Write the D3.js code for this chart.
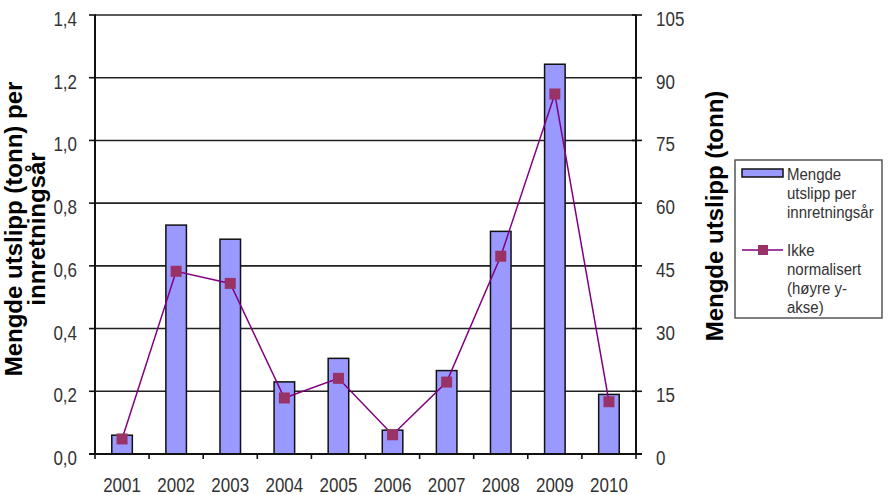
<!DOCTYPE html>
<html><head><meta charset="utf-8">
<script src="https://cdn.jsdelivr.net/npm/d3@7"></script>
<style>body{margin:0;background:#fff}svg{display:block}</style>
</head><body>
<svg id="c" width="888" height="495"></svg>
<script>
const years = ["2001","2002","2003","2004","2005","2006","2007","2008","2009","2010"];
const perYear = [0.06,0.73,0.685,0.23,0.305,0.076,0.266,0.71,1.243,0.19];
const total = [3.6,43.7,40.8,13.4,18.1,4.6,17.2,47.3,86.1,12.5];
const leftTicks = [0,0.2,0.4,0.6,0.8,1.0,1.2,1.4];
const rightTicks = [0,15,30,45,60,75,90,105];
const leftTitle = ["Mengde utslipp (tonn) per","innretningsår"];
const rightTitle = "Mengde utslipp (tonn)";
const legend1 = ["Mengde","utslipp per","innretningsår"];
const legend2 = ["Ikke","normalisert","(høyre y-","akse)"];

const svg = d3.select("#c");
const L = 95, R = 636, T = 15, B = 454;
const font = "'Liberation Sans', Arial, sans-serif";
const x = d3.scaleBand().domain(years).range([L,R]).paddingInner(0.62).paddingOuter(0.31);
const yL = d3.scaleLinear().domain([0,1.4]).range([B,T]);
const yR = d3.scaleLinear().domain([0,105]).range([B,T]);

// gridlines
svg.append("g").selectAll("line").data(leftTicks).join("line")
  .attr("x1",L).attr("x2",R).attr("y1",d=>yL(d)).attr("y2",d=>yL(d))
  .attr("stroke","#222").attr("stroke-width",1.6);

// bars
svg.append("g").selectAll("rect").data(perYear).join("rect")
  .attr("x",(d,i)=>x(years[i])).attr("width",x.bandwidth())
  .attr("y",d=>yL(d)).attr("height",d=>B-yL(d))
  .attr("fill","#9999ff").attr("stroke","#111").attr("stroke-width",1.5);

// axes lines
svg.append("line").attr("x1",L).attr("x2",L).attr("y1",T).attr("y2",B).attr("stroke","#111").attr("stroke-width",2);
svg.append("line").attr("x1",R).attr("x2",R).attr("y1",T).attr("y2",B).attr("stroke","#111").attr("stroke-width",2);
svg.append("line").attr("x1",L-6).attr("x2",R+6).attr("y1",B).attr("y2",B).attr("stroke","#111").attr("stroke-width",2);

// ticks
svg.append("g").selectAll("line").data(leftTicks).join("line")
  .attr("x1",L-6).attr("x2",L+1).attr("y1",d=>yL(d)).attr("y2",d=>yL(d)).attr("stroke","#111").attr("stroke-width",1.6);
svg.append("g").selectAll("line").data(rightTicks).join("line")
  .attr("x1",R-4).attr("x2",R+6).attr("y1",d=>yR(d)).attr("y2",d=>yR(d)).attr("stroke","#111").attr("stroke-width",1.6);
const bt = d3.range(years.length+1).map(i=>L + i*x.step());
svg.append("g").selectAll("line").data(bt).join("line")
  .attr("x1",d=>d).attr("x2",d=>d).attr("y1",B).attr("y2",B+5).attr("stroke","#111").attr("stroke-width",1.6);

const fmt = d3.format(".1f");
svg.append("g").selectAll("text").data(leftTicks).join("text")
  .attr("transform",d=>`translate(77,${yL(d)+11}) scale(1,1.18)`)
  .attr("text-anchor","end").attr("font-family",font).attr("font-size",17).attr("fill","#333")
  .text(d=>fmt(d).replace(".",","));
svg.append("g").selectAll("text").data(rightTicks).join("text")
  .attr("transform",d=>`translate(656,${yR(d)+11}) scale(1,1.18)`)
  .attr("text-anchor","start").attr("font-family",font).attr("font-size",17).attr("fill","#333")
  .text(d=>d);
svg.append("g").selectAll("text").data(years).join("text")
  .attr("transform",d=>`translate(${x(d)+x.bandwidth()/2},492) scale(1,1.18)`)
  .attr("text-anchor","middle").attr("font-family",font).attr("font-size",17).attr("fill","#333")
  .text(d=>d);

// line series
const line = d3.line().x((d,i)=>x(years[i])+x.bandwidth()/2).y(d=>yR(d));
svg.append("path").datum(total).attr("d",line).attr("fill","none").attr("stroke","#800080").attr("stroke-width",1.5);
svg.append("g").selectAll("rect").data(total).join("rect")
  .attr("x",(d,i)=>x(years[i])+x.bandwidth()/2-5.5).attr("y",d=>yR(d)-5.5)
  .attr("width",11).attr("height",11).attr("fill","#993366");

// titles
const lt = svg.append("text").attr("transform","translate(0,229) rotate(-90)")
  .attr("text-anchor","middle").attr("font-family",font).attr("font-weight","bold").attr("font-size",24).attr("fill","#000");
leftTitle.forEach((s,i)=>lt.append("tspan").attr("x",0).attr("y",i===0?22:45).text(s));
svg.append("text").attr("transform","translate(723,216) rotate(-90)")
  .attr("text-anchor","middle").attr("font-family",font).attr("font-weight","bold").attr("font-size",24).attr("fill","#000")
  .text(rightTitle);

// legend
const lg = svg.append("g");
lg.append("rect").attr("x",735).attr("y",160).attr("width",147).attr("height",158).attr("fill","#fff").attr("stroke","#555").attr("stroke-width",1.5);
lg.append("rect").attr("x",742).attr("y",169).attr("width",41).attr("height",8).attr("fill","#9999ff").attr("stroke","#111").attr("stroke-width",1.5);
lg.append("line").attr("x1",742).attr("x2",783).attr("y1",250).attr("y2",250).attr("stroke","#800080").attr("stroke-width",1.5);
lg.append("rect").attr("x",758).attr("y",245).attr("width",10).attr("height",10).attr("fill","#993366");
legend1.forEach((s,i)=>lg.append("text").attr("transform",`translate(787,${180+i*19}) scale(1,1.08)`)
  .attr("font-family",font).attr("font-size",15).attr("fill","#333").text(s));
legend2.forEach((s,i)=>lg.append("text").attr("transform",`translate(787,${256+i*19}) scale(1,1.08)`)
  .attr("font-family",font).attr("font-size",15).attr("fill","#333").text(s));
</script>
</body></html>
